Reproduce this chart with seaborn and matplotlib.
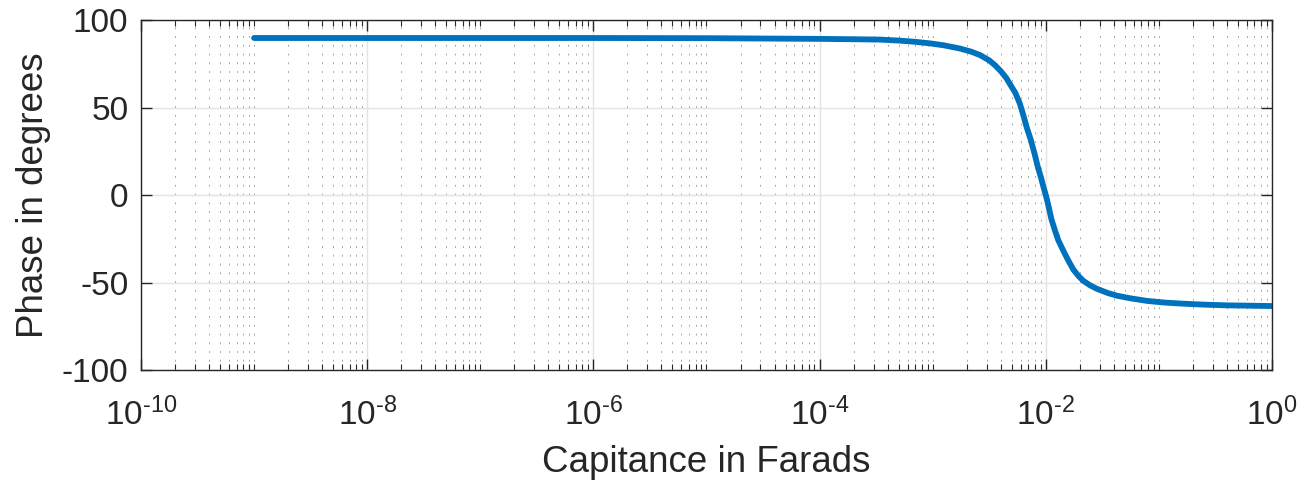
import numpy as np
import pandas as pd
import matplotlib
matplotlib.use("Agg")
import matplotlib.pyplot as plt
from matplotlib.ticker import LogLocator, FixedLocator, FixedFormatter, NullFormatter
import seaborn as sns

# values: exponent of capacitance (10^x F) and phase (deg)
cap_exp = [-9.0, -8.0, -7.0, -6.0, -5.0, -4.5, -4.0, -3.7, -3.47, -3.29,
           -3.15, -3.02, -2.9, -2.76, -2.66, -2.58, -2.50, -2.45, -2.40, -2.35,
           -2.32, -2.27, -2.23, -2.20, -2.17, -2.13, -2.10, -2.07, -2.04, -2.02,
           -2.00, -1.99, -1.97, -1.95, -1.92, -1.89, -1.845, -1.80, -1.757, -1.71,
           -1.668, -1.61, -1.55, -1.45, -1.37, -1.25, -1.10, -0.95, -0.80, -0.60,
           -0.40, -0.20, 0.0]
phase = [89.8, 89.8, 89.8, 89.8, 89.7, 89.5, 89.3, 89.1, 88.9, 88.3,
         87.6, 86.7, 85.6, 83.8, 82.0, 80.0, 77.0, 74.3, 71.0, 67.0,
         63.8, 58.5, 52.4, 46.0, 39.0, 31.0, 23.8, 16.0, 9.5, 4.5,
         0.0, -2.5, -8.0, -13.8, -20.0, -25.7, -31.8, -37.5, -42.5, -46.3,
         -49.0, -51.5, -53.5, -56.0, -57.5, -59.0, -60.5, -61.4, -62.0, -62.6,
         -63.0, -63.2, -63.4]

xtick_exp = [-10, -8, -6, -4, -2, 0]
xtick_labels = ["$\\mathregular{10^{\\text{-}%d}}$" % -e if e < 0 else "$\\mathregular{10^{%d}}$" % e
                for e in xtick_exp]
yticks = [-100, -50, 0, 50, 100]

df = pd.DataFrame({"C": [10.0 ** e for e in cap_exp], "phase": phase})

sns.set_theme(style="white")
plt.rcParams["font.family"] = ["Liberation Sans", "DejaVu Sans"]
plt.rcParams["mathtext.fontset"] = "custom"
plt.rcParams["mathtext.rm"] = "Liberation Sans"
plt.rcParams["mathtext.it"] = "Liberation Sans:italic"
plt.rcParams["mathtext.bf"] = "Liberation Sans:bold"
plt.rcParams["axes.unicode_minus"] = False

fig = plt.figure(figsize=(13.1, 4.8), dpi=100)
ax = fig.add_axes([0.1076, 0.229, 0.8634, 0.729])

sns.lineplot(x="C", y="phase", data=df, ax=ax, color="#0072BD", linewidth=4.2)

ax.set_xscale("log")
ax.set_xlim(1e-10, 1e0)
ax.set_ylim(-100, 100)

ax.xaxis.set_major_locator(FixedLocator([10.0 ** e for e in xtick_exp]))
ax.xaxis.set_major_formatter(FixedFormatter(xtick_labels))
ax.xaxis.set_minor_locator(LogLocator(base=10, subs=np.arange(1, 10) * 1.0, numticks=100))
ax.xaxis.set_minor_formatter(NullFormatter())
ax.set_yticks(yticks)
ax.set_yticklabels([str(v) for v in yticks])

ax.grid(True, which="major", color="#e3e3e3", linewidth=1.0, linestyle="-")
ax.grid(True, which="minor", axis="x", color="#a8a8a8", linewidth=0.7, linestyle=(0, (2, 7)))
ax.set_axisbelow(True)

for s in ax.spines.values():
    s.set_color("#262626")
    s.set_linewidth(1.0)

ax.tick_params(which="both", direction="in", bottom=True, left=True, top=True, right=True,
               colors="#262626")
ax.tick_params(which="major", length=8, width=1.0, labelsize=24)
ax.tick_params(which="minor", length=4, width=0.8)
ax.tick_params(axis="x", which="major", pad=20)
ax.tick_params(axis="y", which="major", pad=9)

ax.set_xlabel("Capitance in Farads", fontsize=26.5, color="#262626", labelpad=9)
ax.set_ylabel("Phase in degrees", fontsize=26.5, color="#262626", labelpad=8)

fig.savefig("out.png", dpi=100)
